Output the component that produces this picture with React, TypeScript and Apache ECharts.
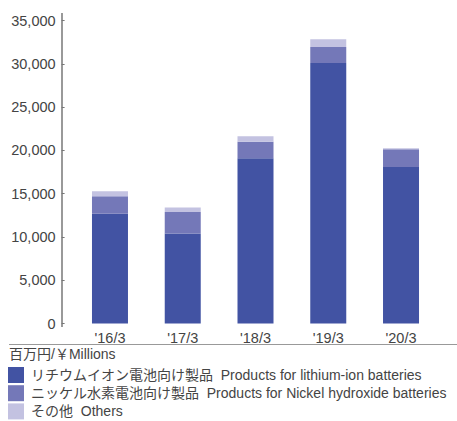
import React, { useEffect, useRef } from "react";
import * as echarts from "echarts";

const categories = ["'16/3", "'17/3", "'18/3", "'19/3", "'20/3"];
const lithium = [12700, 10400, 19100, 30100, 18100];
const nickel = [2000, 2500, 1900, 1850, 2050];
const others = [600, 500, 650, 900, 100];
const seriesNames = [
  "リチウムイオン電池向け製品  Products for lithium-ion batteries",
  "ニッケル水素電池向け製品  Products for Nickel hydroxide batteries",
  "その他  Others",
];
const unitLabel = "百万円/￥Millions";
const colors = ["#4253A3", "#7478B8", "#C3C2E1"];

const FONT = "'Liberation Sans', 'Noto Sans CJK JP', sans-serif";
const TEXT = "#444";

export default function App() {
  const ref = useRef<HTMLDivElement>(null);
  useEffect(() => {
    if (!ref.current) return;
    const chart = echarts.init(ref.current, undefined, { renderer: "svg" });
    const data = [lithium, nickel, others];
    chart.setOption({
      animation: false,
      textStyle: { fontFamily: FONT },
      grid: { left: 73.6, right: 19.6, top: 20.7, bottom: 97.5 },
      xAxis: {
        type: "category",
        data: categories,
        axisLine: { show: false },
        axisTick: { show: false },
        axisLabel: { color: TEXT, fontSize: 14.5, margin: 7, fontFamily: FONT },
      },
      yAxis: {
        type: "value",
        min: 0,
        max: 35000,
        interval: 5000,
        offset: 12,
        splitLine: { show: false },
        axisLine: { show: false },
        axisTick: { show: true, inside: true, length: 3, lineStyle: { color: "#777" } },
        axisLabel: {
          color: TEXT,
          fontSize: 14.5,
          margin: 6,
          fontFamily: FONT,
          formatter: (v: number) => v.toLocaleString("en-US"),
        },
      },
      legend: seriesNames.map((name, i) => ({
        orient: "horizontal",
        left: 8,
        top: 367 + i * 18.2,
        itemWidth: 16,
        itemHeight: 16,
        itemGap: 2,
        padding: 0,
        icon: "rect",
        selectedMode: false,
        textStyle: { color: TEXT, fontSize: 14, fontFamily: FONT, padding: [0, 0, 0, 2] },
        data: [name],
      })),
      graphic: [
        {
          type: "line",
          shape: { x1: 62, y1: 13, x2: 62, y2: 327 },
          style: { stroke: "#777", lineWidth: 1.5 },
        },
        {
          type: "line",
          shape: { x1: 9, y1: 344.5, x2: 457, y2: 344.5 },
          style: { stroke: "#999", lineWidth: 1 },
        },
        {
          type: "text",
          left: 9,
          top: 347,
          style: { text: unitLabel, fill: TEXT, fontSize: 14, fontFamily: FONT },
        },
      ],
      series: seriesNames.map((name, i) => ({
        name,
        type: "bar",
        stack: "total",
        barWidth: 36,
        itemStyle: { color: colors[i] },
        data: data[i],
      })),
    });
    return () => chart.dispose();
  }, []);
  return <div ref={ref} style={{ width: 457, height: 421, position: "absolute", left: 0, top: 0 }} />;
}
